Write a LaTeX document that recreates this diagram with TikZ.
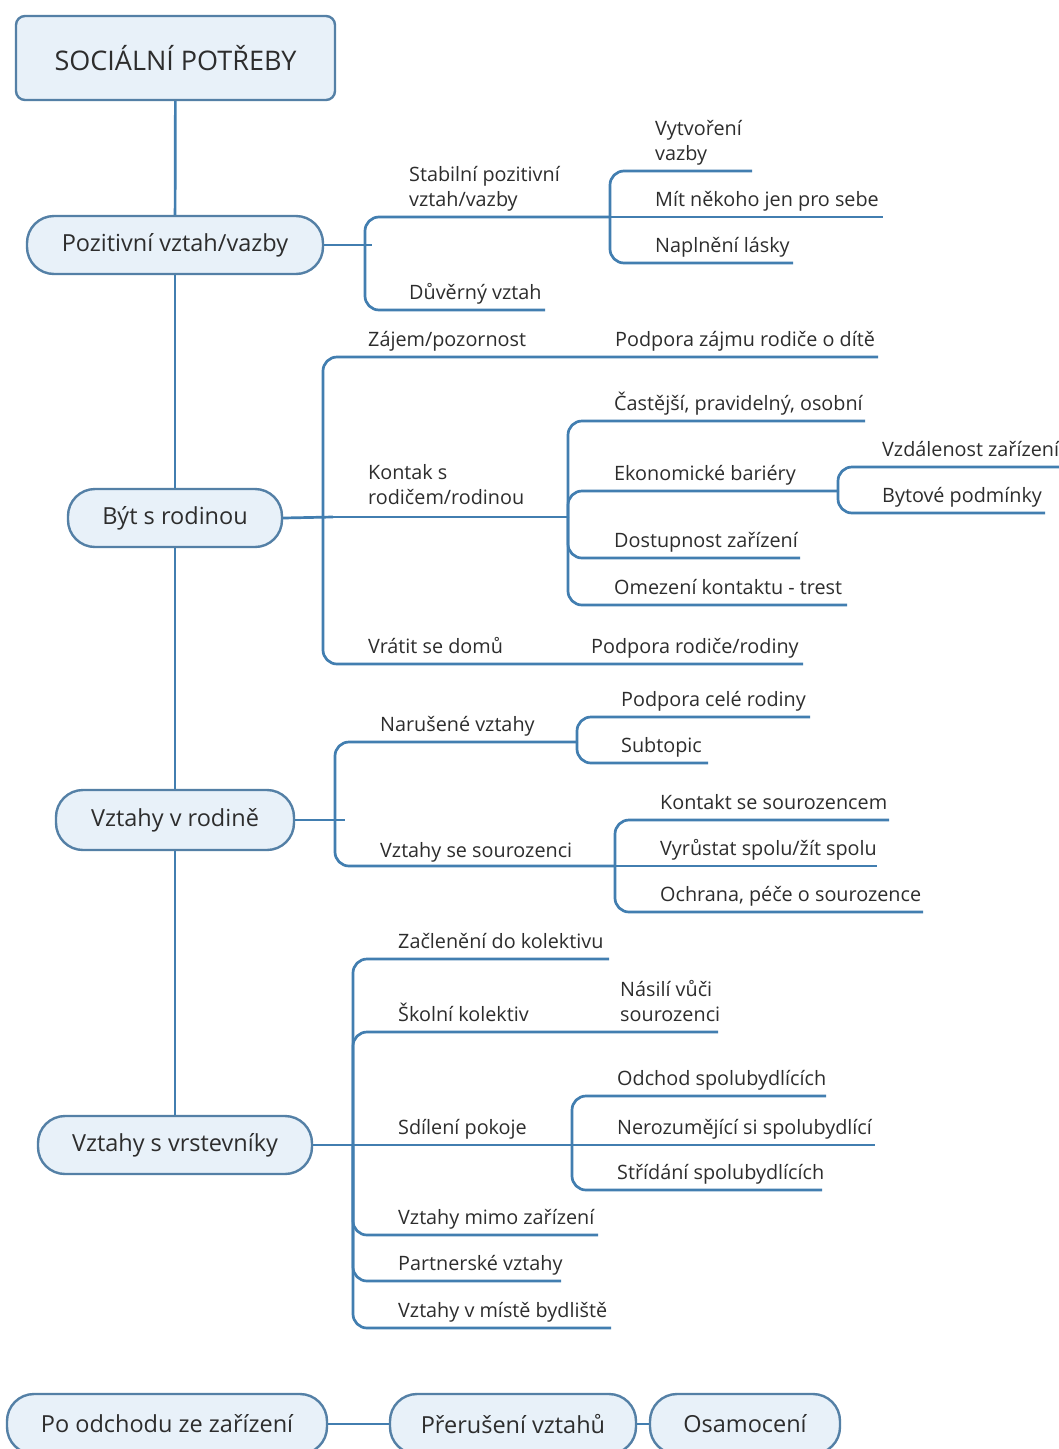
\documentclass[tikz,border=0pt]{standalone}
\usepackage{fontspec}
\setmainfont{Open Sans}
\definecolor{linec}{RGB}{66,126,176}
\definecolor{nodeedge}{RGB}{84,128,166}
\definecolor{nodefill}{RGB}{232,241,249}
\definecolor{ink}{RGB}{45,45,45}
\begin{document}
\begin{tikzpicture}[x=1pt,y=-1pt,
  topic/.style={draw=nodeedge, fill=nodefill, line width=2.4pt, rounded corners=27,
    minimum height=58, inner sep=0pt, text=ink, font=\fontsize{23.5}{28}\selectfont},
  roottopic/.style={topic, rounded corners=9, font=\fontsize{27}{32}\selectfont},
  lbl/.style={anchor=south west, inner sep=0pt, text depth=0pt, align=left,
    text=ink, font=\fontsize{19.8}{25}\selectfont},
  trunk/.style={draw=linec, line width=2.7pt},
  branch/.style={draw=linec, line width=2.7pt, rounded corners=14}]
\clip (0,0) rectangle (1059,1449);
\fill[white] (0,0) rectangle (1059,1449);

% main topics
\node[roottopic, minimum width=319, minimum height=84] (root) at (175.5,58) {SOCIÁLNÍ POTŘEBY};
\node[topic, minimum width=296] (pos) at (175,245) {Pozitivní vztah/vazby};
\node[topic, minimum width=214] (byt) at (175,518) {Být s rodinou};
\node[topic, minimum width=238, minimum height=60] (vrod) at (175,820) {Vztahy v rodině};
\node[topic, minimum width=274] (vvrst) at (175,1145) {Vztahy s vrstevníky};
\node[topic, minimum width=320, minimum height=60] (poodch) at (167,1424) {Po odchodu ze zařízení};
\node[topic, minimum width=246, minimum height=60] (prer) at (513,1424) {Přerušení vztahů};
\node[topic, minimum width=190, minimum height=60] (osam) at (745,1424) {Osamocení};

\draw[trunk] (root) -- (pos);
\draw[trunk] (pos) -- (byt);
\draw[trunk] (byt) -- (vrod);
\draw[trunk] (vrod) -- (vvrst);
\draw[trunk] (poodch) -- (prer);
\draw[trunk] (prer) -- (osam);

% --- Pozitivní vztah/vazby
\coordinate (b1) at (365,245);
\coordinate (b1t) at (372,245);
\coordinate (b2) at (610,217);
\draw[branch] (pos.east) -- (b1t);
\draw[branch] (b1) |- (b2);
\draw[branch] (b1) |- (545,310);
\draw[branch] (b2) |- (752,171);
\draw[branch] (b2) -- (883,217);
\draw[branch] (b2) |- (793,263);
\node[lbl] (stab) at (409,207) {Stabilní pozitivní\\vztah/vazby};
\node[lbl] (duv) at (409,300) {Důvěrný vztah};
\node[lbl] (vytv) at (655,161) {Vytvoření\\vazby};
\node[lbl] (mit) at (655,207) {Mít někoho jen pro sebe};
\node[lbl] (napl) at (655,253) {Naplnění lásky};

% --- Být s rodinou
\coordinate (b3) at (323,517);
\coordinate (b3t) at (333,517);
\coordinate (b4) at (568,517);
\coordinate (b5) at (838,491);
\draw[branch] (byt.east) -- (b3t);
\draw[branch] (b3) |- (878,357);
\draw[branch] (b3) -- (b4);
\draw[branch] (b3) |- (803,664);
\draw[branch] (b4) |- (865,421);
\draw[branch] (b4) |- (b5);
\draw[branch] (b4) |- (800,558);
\draw[branch] (b4) |- (847,605);
\draw[branch] (b5) |- (1059,467);
\draw[branch] (b5) |- (1045,513);
\node[lbl] (zaj) at (368,347) {Zájem/pozornost};
\node[lbl] (podz) at (615,347) {Podpora zájmu rodiče o dítě};
\node[lbl] (kont) at (368,505) {Kontak s\\rodičem/rodinou};
\node[lbl] (vrat) at (368,654) {Vrátit se domů};
\node[lbl] (podr) at (591,654) {Podpora rodiče/rodiny};
\node[lbl] (cast) at (614,411) {Častější, pravidelný, osobní};
\node[lbl] (ekon) at (614,481) {Ekonomické bariéry};
\node[lbl] (dost) at (614,548) {Dostupnost zařízení};
\node[lbl] (omez) at (614,595) {Omezení kontaktu - trest};
\node[lbl] (vzd) at (882,457) {Vzdálenost zařízení};
\node[lbl] (byto) at (882,503) {Bytové podmínky};

% --- Vztahy v rodině
\coordinate (b6) at (335,820);
\coordinate (b6t) at (345,820);
\coordinate (b7) at (577,742);
\coordinate (b8) at (615,866);
\draw[branch] (vrod.east) -- (b6t);
\draw[branch] (b6) |- (b7);
\draw[branch] (b6) |- (b8);
\draw[branch] (b7) |- (810,717);
\draw[branch] (b7) |- (708,763);
\draw[branch] (b8) |- (889,820);
\draw[branch] (b8) -- (877,866);
\draw[branch] (b8) |- (923,912);
\node[lbl] (nar) at (380,732) {Narušené vztahy};
\node[lbl] (sour) at (380,858) {Vztahy se sourozenci};
\node[lbl] (podc) at (621,707) {Podpora celé rodiny};
\node[lbl] (subt) at (621,753) {Subtopic};
\node[lbl] (ksour) at (660,810) {Kontakt se sourozencem};
\node[lbl] (vyr) at (660,856) {Vyrůstat spolu/žít spolu};
\node[lbl] (ochr) at (660,902) {Ochrana, péče o sourozence};

% --- Vztahy s vrstevníky
\coordinate (b9) at (353,1145);
\coordinate (b9t) at (360,1145);
\coordinate (b10) at (572,1145);
\draw[branch] (vvrst.east) -- (b9t);
\draw[branch] (b9) |- (609,959);
\draw[branch] (b9) |- (718,1032);
\draw[branch] (b9) -- (b10);
\draw[branch] (b9) |- (598,1235);
\draw[branch] (b9) |- (561,1281);
\draw[branch] (b9) |- (611,1328);
\draw[branch] (b10) |- (826,1096);
\draw[branch] (b10) -- (875,1145);
\draw[branch] (b10) |- (822,1190);
\node[lbl] (zacl) at (398,949) {Začlenění do kolektivu};
\node[lbl] (skol) at (398,1022) {Školní kolektiv};
\node[lbl] (nasi) at (620,1022) {Násilí vůči\\sourozenci};
\node[lbl] (sdil) at (398,1135) {Sdílení pokoje};
\node[lbl] (mimo) at (398,1225) {Vztahy mimo zařízení};
\node[lbl] (part) at (398,1271) {Partnerské vztahy};
\node[lbl] (mist) at (398,1318) {Vztahy v místě bydliště};
\node[lbl] (odch) at (617,1086) {Odchod spolubydlících};
\node[lbl] (nero) at (617,1135) {Nerozumějící si spolubydlící};
\node[lbl] (strid) at (617,1180) {Střídání spolubydlících};
\end{tikzpicture}
\end{document}
